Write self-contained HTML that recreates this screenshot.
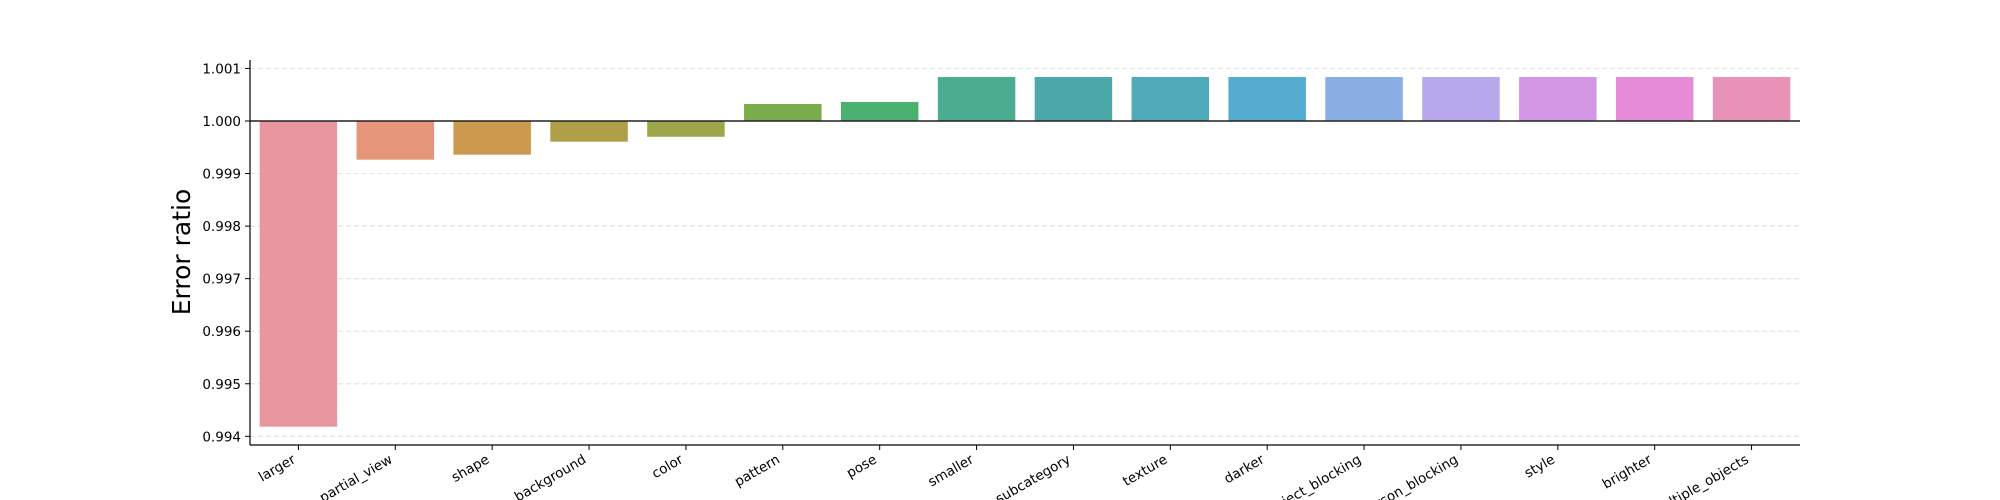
<!DOCTYPE html>
<html><head><meta charset="utf-8"><style>
html,body{margin:0;padding:0;background:#fff;}
svg{display:block;font-family:"DejaVu Sans","Liberation Sans",sans-serif;}
</style></head><body>
<svg id="chart" width="2000" height="500" viewBox="0 0 2000 500"></svg>
<script>
const categories = ["larger","partial_view","shape","background","color","pattern","pose","smaller","subcategory","texture","darker","object_blocking","person_blocking","style","brighter","multiple_objects"];
const values = [0.994183,0.999264,0.999359,0.999606,0.99970,1.000324,1.000362,1.000837,1.000837,1.000837,1.000837,1.000837,1.000837,1.000837,1.000837,1.000837];
const colors = ["#e8969f","#e5957a","#cc9a4e","#b09f49","#9da64a","#79ac4a","#4bb070","#4aad90","#4baaa9","#4ea9b8","#54acd0","#88aee4","#b6a8ea","#d396e5","#e68cd7","#e892b8"];
const yTicks = [0.994,0.995,0.996,0.997,0.998,0.999,1.000,1.001];
const yTickLabels = ["0.994","0.995","0.996","0.997","0.998","0.999","1.000","1.001"];

const NS="http://www.w3.org/2000/svg";
const svg=document.getElementById('chart');
const L=250,R=1800,T=60,B=445;
const y=v=>121+(1.000-v)*52550;
const step=(R-L)/categories.length;
const x=i=>L+(i+0.5)*step;
function mk(t,a){const e=document.createElementNS(NS,t);for(const k in a)e.setAttribute(k,a[k]);svg.appendChild(e);return e;}

yTicks.forEach((t,i)=>{
  const g=mk('line',{x1:L,x2:R,y1:y(t),y2:y(t),stroke:'#e3e3e3','stroke-width':1.2,'stroke-dasharray':'5,3'});
  
  
  const tk=mk('line',{x1:L-5,x2:L,y1:y(t),y2:y(t),stroke:'#000','stroke-width':1});
  
  
  const tx=mk('text',{x:L-9,y:y(t)+5,'text-anchor':'end','font-size':13.5,fill:'#000'});
  tx.textContent=yTickLabels[i];
  
  
});

categories.forEach((c,i)=>{
  const v=values[i];
  const w=step*0.8;
  const top=Math.min(y(v),y(1)),h=Math.abs(y(v)-y(1));
  const r=mk('rect',{x:x(i)-w/2,y:top,width:w,height:h,fill:colors[i]});
  
  
  const tk=mk('line',{x1:x(i),x2:x(i),y1:B,y2:B+5,stroke:'#000','stroke-width':1});
  
  
  const tx=mk('text',{x:x(i)-2,y:B+17,'text-anchor':'end','font-size':13.5,fill:'#000',transform:`rotate(-30 ${x(i)-2} ${B+17})`});
  tx.textContent=c;
  
  
});

const zl=mk('line',{x1:L,x2:R,y1:y(1),y2:y(1),stroke:'#222','stroke-width':1.6});


const ls=mk('line',{x1:L,x2:L,y1:T,y2:B,stroke:'#000','stroke-width':1.2});


const bs=mk('line',{x1:L,x2:R,y1:B,y2:B,stroke:'#000','stroke-width':1.2});


const yl=mk('text',{x:190,y:252,'text-anchor':'middle','font-size':25,fill:'#000',transform:'rotate(-90 190 252)'});
yl.textContent='Error ratio';


</script>
</body></html>
